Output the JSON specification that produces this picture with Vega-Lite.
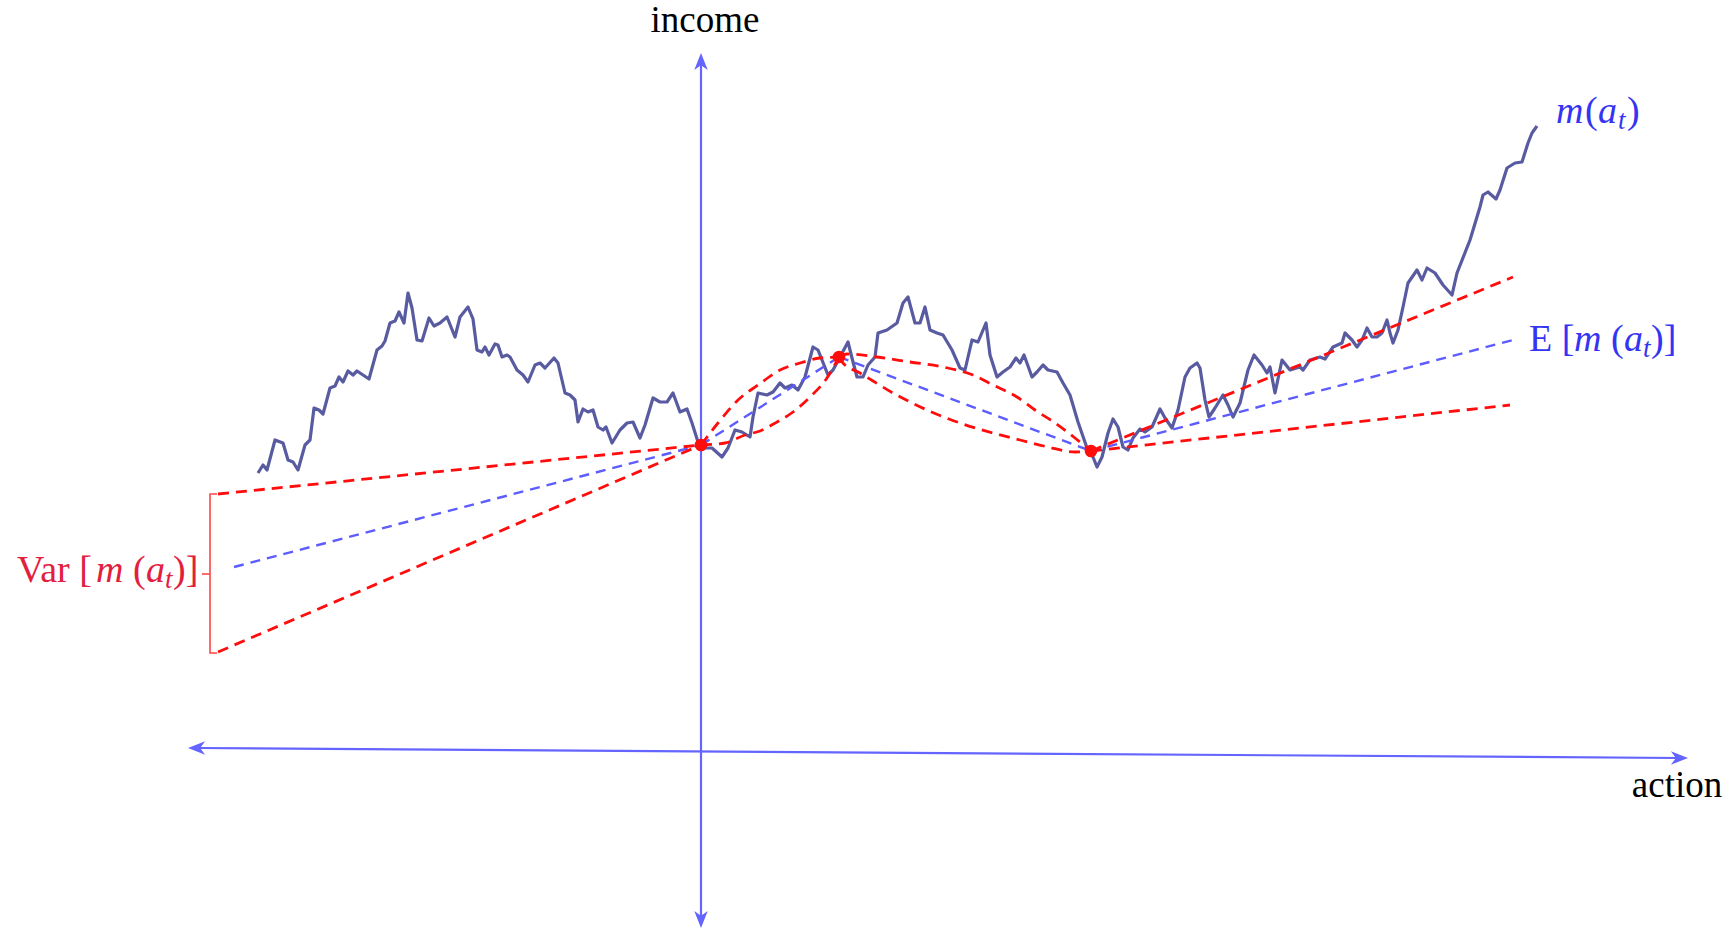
{
  "$schema": "https://vega.github.io/schema/vega-lite/v6.json",
  "autosize": {"type": "fit", "contains": "padding"},
  "width": 1733,
  "height": 933,
  "padding": 0,
  "background": "white",
  "config": {"view": {"stroke": null}},
  "datasets": {
    "walk": [
      {"x":-443,"y":278},{"x":-438,"y":286},{"x":-434,"y":281},{"x":-426,"y":311},{"x":-418,"y":308},{"x":-413,"y":291},{"x":-408,"y":289},{"x":-403,"y":281},{"x":-396,"y":306},{"x":-391,"y":311},
      {"x":-387,"y":343},{"x":-382,"y":341},{"x":-378,"y":337},{"x":-371,"y":363},{"x":-366,"y":365},{"x":-362,"y":374},{"x":-358,"y":369},{"x":-353,"y":380},{"x":-348,"y":376},{"x":-344,"y":380},
      {"x":-338,"y":376},{"x":-332,"y":372},{"x":-324,"y":401},{"x":-319,"y":405},{"x":-316,"y":410},{"x":-311,"y":428},{"x":-306,"y":430},{"x":-302,"y":439},{"x":-297,"y":428},{"x":-293,"y":458},
      {"x":-289,"y":443},{"x":-284,"y":411},{"x":-279,"y":410},{"x":-272,"y":433},{"x":-267,"y":425},{"x":-261,"y":428},{"x":-254,"y":434},{"x":-246,"y":414},{"x":-241,"y":434},{"x":-233,"y":444},
      {"x":-228,"y":432},{"x":-224,"y":401},{"x":-219,"y":399},{"x":-216,"y":404},{"x":-212,"y":396},{"x":-206,"y":407},{"x":-203,"y":406},{"x":-199,"y":394},{"x":-194,"y":396},{"x":-191,"y":394},
      {"x":-184,"y":381},{"x":-178,"y":376},{"x":-173,"y":369},{"x":-166,"y":386},{"x":-161,"y":388},{"x":-156,"y":383},{"x":-147,"y":393},{"x":-143,"y":388},{"x":-136,"y":358},{"x":-131,"y":356},
      {"x":-126,"y":351},{"x":-123,"y":329},{"x":-118,"y":342},{"x":-113,"y":339},{"x":-108,"y":341},{"x":-103,"y":324},{"x":-98,"y":321},{"x":-95,"y":324},{"x":-89,"y":308},{"x":-81,"y":321},
      {"x":-74,"y":328},{"x":-68,"y":329},{"x":-61,"y":313},{"x":-56,"y":326},{"x":-48,"y":353},{"x":-41,"y":349},{"x":-34,"y":349},{"x":-28,"y":358},{"x":-21,"y":339},{"x":-14,"y":342},
      {"x":-9,"y":328},{"x":-3,"y":309},{"x":4,"y":303},{"x":11,"y":303},{"x":21,"y":294},{"x":27,"y":303},{"x":34,"y":321},{"x":41,"y":319},{"x":49,"y":314},{"x":52,"y":334},
      {"x":57,"y":358},{"x":66,"y":356},{"x":72,"y":359},{"x":79,"y":368},{"x":84,"y":363},{"x":91,"y":366},{"x":97,"y":361},{"x":104,"y":374},{"x":112,"y":404},{"x":117,"y":401},
      {"x":127,"y":376},{"x":132,"y":381},{"x":139,"y":394},{"x":147,"y":409},{"x":151,"y":393},{"x":156,"y":374},{"x":162,"y":374},{"x":167,"y":386},{"x":174,"y":394},{"x":177,"y":418},
      {"x":186,"y":421},{"x":196,"y":428},{"x":202,"y":448},{"x":207,"y":454},{"x":214,"y":428},{"x":219,"y":428},{"x":224,"y":444},{"x":229,"y":421},{"x":236,"y":418},{"x":242,"y":416},
      {"x":251,"y":401},{"x":259,"y":383},{"x":264,"y":381},{"x":271,"y":411},{"x":277,"y":409},{"x":285,"y":428},{"x":289,"y":396},{"x":296,"y":374},{"x":302,"y":379},{"x":309,"y":384},
      {"x":315,"y":393},{"x":319,"y":388},{"x":323,"y":396},{"x":331,"y":374},{"x":336,"y":379},{"x":342,"y":386},{"x":347,"y":381},{"x":356,"y":379},{"x":362,"y":368},{"x":369,"y":356},
      {"x":377,"y":329},{"x":386,"y":303},{"x":392,"y":294},{"x":396,"y":284},{"x":401,"y":294},{"x":407,"y":318},{"x":412,"y":332},{"x":417,"y":324},{"x":422,"y":304},{"x":427,"y":301},
      {"x":432,"y":313},{"x":439,"y":322},{"x":444,"y":319},{"x":451,"y":324},{"x":459,"y":342},{"x":464,"y":333},{"x":471,"y":323},{"x":477,"y":341},{"x":484,"y":374},{"x":489,"y":383},
      {"x":496,"y":388},{"x":499,"y":383},{"x":504,"y":351},{"x":508,"y":334},{"x":514,"y":343},{"x":522,"y":356},{"x":527,"y":346},{"x":532,"y":334},{"x":539,"y":348},{"x":547,"y":381},
      {"x":553,"y":396},{"x":561,"y":386},{"x":566,"y":378},{"x":569,"y":384},{"x":574,"y":358},{"x":581,"y":391},{"x":589,"y":381},{"x":599,"y":384},{"x":602,"y":381},{"x":609,"y":391},
      {"x":619,"y":394},{"x":624,"y":392},{"x":632,"y":404},{"x":641,"y":408},{"x":644,"y":418},{"x":651,"y":411},{"x":656,"y":404},{"x":661,"y":411},{"x":666,"y":423},{"x":671,"y":414},
      {"x":676,"y":414},{"x":681,"y":418},{"x":686,"y":431},{"x":689,"y":418},{"x":692,"y":408},{"x":697,"y":421},{"x":702,"y":444},{"x":707,"y":468},{"x":716,"y":481},{"x":721,"y":471},
      {"x":726,"y":483},{"x":734,"y":478},{"x":742,"y":466},{"x":751,"y":456},{"x":756,"y":478},{"x":769,"y":511},{"x":779,"y":544},{"x":782,"y":556},{"x":787,"y":559},{"x":795,"y":552},
      {"x":799,"y":561},{"x":806,"y":583},{"x":814,"y":588},{"x":821,"y":589},{"x":827,"y":608},{"x":831,"y":618},{"x":836,"y":625}
    ],
    "red": [
      {"s":"rLu","x":-483,"y":257},{"s":"rLu","x":0,"y":306},
      {"s":"rLl","x":-483,"y":99},{"s":"rLl","x":0,"y":306},
      {"s":"r12u","x":0,"y":306},{"s":"r12u","x":17,"y":328},{"s":"r12u","x":37,"y":351},{"s":"r12u","x":57,"y":366},{"s":"r12u","x":79,"y":381},{"s":"r12u","x":99,"y":388},{"s":"r12u","x":119,"y":393},{"s":"r12u","x":138,"y":394},
      {"s":"r12l","x":0,"y":306},{"s":"r12l","x":24,"y":308},{"s":"r12l","x":44,"y":316},{"s":"r12l","x":59,"y":320},{"s":"r12l","x":76,"y":329},{"s":"r12l","x":92,"y":339},{"s":"r12l","x":109,"y":354},{"s":"r12l","x":126,"y":373},{"s":"r12l","x":138,"y":394},
      {"s":"r23u","x":138,"y":394},{"s":"r23u","x":146,"y":397},{"s":"r23u","x":176,"y":394},{"s":"r23u","x":209,"y":389},{"s":"r23u","x":242,"y":384},{"s":"r23u","x":272,"y":376},{"s":"r23u","x":292,"y":366},{"s":"r23u","x":316,"y":354},{"s":"r23u","x":334,"y":341},{"s":"r23u","x":354,"y":328},{"s":"r23u","x":374,"y":313},{"s":"r23u","x":390,"y":300},
      {"s":"r23l","x":138,"y":394},{"s":"r23l","x":142,"y":388},{"s":"r23l","x":159,"y":378},{"s":"r23l","x":192,"y":358},{"s":"r23l","x":226,"y":341},{"s":"r23l","x":259,"y":328},{"s":"r23l","x":292,"y":318},{"s":"r23l","x":319,"y":311},{"s":"r23l","x":347,"y":304},{"s":"r23l","x":374,"y":299},{"s":"r23l","x":390,"y":300},
      {"s":"r3u","x":390,"y":300},{"s":"r3u","x":812,"y":474},
      {"s":"r3l","x":390,"y":300},{"s":"r3l","x":809,"y":346}
    ],
    "blue": [
      {"s":"bL","x":-467,"y":184},{"s":"bL","x":0,"y":306},
      {"s":"b12","x":0,"y":306},{"s":"b12","x":138,"y":394},
      {"s":"b23","x":138,"y":394},{"s":"b23","x":390,"y":300},
      {"s":"b3","x":390,"y":300},{"s":"b3","x":812,"y":411}
    ],
    "axes": [
      {"s":"v","i":0,"x":0,"y":688},{"s":"v","i":1,"x":0,"y":-167},
      {"s":"h","i":0,"x":-503,"y":3},{"s":"h","i":1,"x":977,"y":-7}
    ],
    "arrows": [
      {"dir":"up","x":0,"y":698},
      {"dir":"down","x":0,"y":-177},
      {"dir":"left","x":-513,"y":3},
      {"dir":"right","x":987,"y":-7}
    ],
    "bracket": [
      {"s":"b","i":0,"x":-484,"y":257},{"s":"b","i":1,"x":-491,"y":257},{"s":"b","i":2,"x":-491,"y":98},{"s":"b","i":3,"x":-484,"y":98},
      {"s":"m","i":0,"x":-499,"y":177},{"s":"m","i":1,"x":-491,"y":177}
    ],
    "dots": [
      {"x":0,"y":306},{"x":138,"y":394},{"x":390,"y":300}
    ],
    "labels": [
      {"g":"E","t":"E [","k":"up","x":828,"y":400},
      {"g":"E","t":"m","k":"it","x":873,"y":400},
      {"g":"E","t":"(","k":"up","x":910,"y":400},
      {"g":"E","t":"a","k":"it","x":923,"y":400},
      {"g":"E","t":"t","k":"sub","x":942,"y":400},
      {"g":"E","t":")]","k":"up","x":950,"y":400},
      {"g":"M","t":"m","k":"it","x":855,"y":628},
      {"g":"M","t":"(","k":"up","x":884,"y":628},
      {"g":"M","t":"a","k":"it","x":897,"y":628},
      {"g":"M","t":"t","k":"sub","x":917,"y":628},
      {"g":"M","t":")","k":"up","x":926,"y":628},
      {"g":"V","t":"Var [","k":"up","x":-684,"y":169},
      {"g":"V","t":"m","k":"it","x":-605,"y":169},
      {"g":"V","t":"(","k":"up","x":-568,"y":169},
      {"g":"V","t":"a","k":"it","x":-555,"y":169},
      {"g":"V","t":"t","k":"sub","x":-536,"y":169},
      {"g":"V","t":")]","k":"up","x":-528,"y":169}
    ]
  },
  "encoding": {
    "x": {"field": "x", "type": "quantitative", "scale": {"domain": [-701, 1032], "nice": false, "zero": false}, "axis": null},
    "y": {"field": "y", "type": "quantitative", "scale": {"domain": [-182, 751], "nice": false, "zero": false}, "axis": null}
  },
  "layer": [
    {
      "data": {"name": "axes"},
      "mark": {"type": "line", "color": "#6464ff", "strokeWidth": 2.2},
      "encoding": {"detail": {"field": "s"}, "order": {"field": "i", "type": "quantitative"}}
    },
    {
      "data": {"name": "arrows"},
      "mark": {"type": "point", "filled": true, "size": 324, "color": "#6464ff", "opacity": 1, "strokeWidth": 0},
      "encoding": {
        "shape": {"field": "dir", "type": "nominal", "legend": null,
          "scale": {"domain": ["up", "down", "left", "right"],
            "range": ["M0,0L0.75,1.9L0,1.35L-0.75,1.9Z", "M0,0L0.75,-1.9L0,-1.35L-0.75,-1.9Z", "M0,0L1.9,0.75L1.35,0L1.9,-0.75Z", "M0,0L-1.9,0.75L-1.35,0L-1.9,-0.75Z"]}}
      }
    },
    {
      "data": {"name": "walk"},
      "mark": {"type": "line", "color": "#50529c", "strokeWidth": 3.2, "strokeJoin": "round", "opacity": 0.95},
      "encoding": {}
    },
    {
      "data": {"name": "bracket"},
      "mark": {"type": "line", "color": "#ff4545", "strokeWidth": 1.6},
      "encoding": {"detail": {"field": "s"}, "order": {"field": "i", "type": "quantitative"}}
    },
    {
      "data": {"name": "blue"},
      "mark": {"type": "line", "color": "#5c5cff", "strokeWidth": 2.4, "strokeDash": [10, 7], "interpolate": "monotone"},
      "encoding": {"detail": {"field": "s"}}
    },
    {
      "data": {"name": "red"},
      "mark": {"type": "line", "color": "#ff0d0d", "strokeWidth": 2.8, "strokeDash": [11, 7], "interpolate": "monotone"},
      "encoding": {"detail": {"field": "s"}}
    },
    {
      "data": {"name": "dots"},
      "mark": {"type": "point", "filled": true, "size": 160, "color": "#ff0d0d", "opacity": 1},
      "encoding": {}
    },
    {
      "data": {"values": [{"label": "income", "x": 4, "y": 719}, {"label": "action", "x": 976, "y": -46}]},
      "mark": {"type": "text", "font": "Liberation Serif", "fontSize": 37, "color": "black", "align": "center", "baseline": "alphabetic"},
      "encoding": {"text": {"field": "label"}}
    },
    {
      "data": {"name": "labels"},
      "transform": [{"filter": "datum.k === 'up'"}],
      "mark": {"type": "text", "font": "Liberation Serif", "fontSize": 38, "align": "left", "baseline": "alphabetic"},
      "encoding": {
        "text": {"field": "t"},
        "color": {"field": "g", "type": "nominal", "legend": null, "scale": {"domain": ["E", "M", "V"], "range": ["#3434f2", "#3434f2", "#e2203e"]}}
      }
    },
    {
      "data": {"name": "labels"},
      "transform": [{"filter": "datum.k === 'it'"}],
      "mark": {"type": "text", "font": "Liberation Serif", "fontStyle": "italic", "fontSize": 38, "align": "left", "baseline": "alphabetic"},
      "encoding": {
        "text": {"field": "t"},
        "color": {"field": "g", "type": "nominal", "legend": null, "scale": {"domain": ["E", "M", "V"], "range": ["#3434f2", "#3434f2", "#e2203e"]}}
      }
    },
    {
      "data": {"name": "labels"},
      "transform": [{"filter": "datum.k === 'sub'"}],
      "mark": {"type": "text", "font": "Liberation Serif", "fontStyle": "italic", "fontSize": 27, "align": "left", "baseline": "alphabetic", "dy": 6},
      "encoding": {
        "text": {"field": "t"},
        "color": {"field": "g", "type": "nominal", "legend": null, "scale": {"domain": ["E", "M", "V"], "range": ["#3434f2", "#3434f2", "#e2203e"]}}
      }
    }
  ]
}
